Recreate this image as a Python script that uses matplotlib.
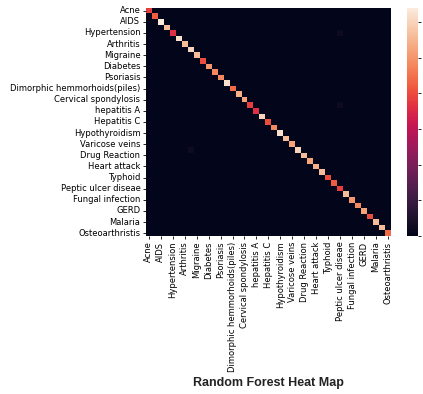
import numpy as np
import matplotlib
matplotlib.use("Agg")
import matplotlib.pyplot as plt
import seaborn as sns

diseases = ['Acne', 'Allergy', 'AIDS', 'Chronic cholestasis', 'Hypertension',
            'Gastroenteritis', 'Arthritis', 'Bronchial Asthma', 'Migraine',
            'Paralysis (brain hemorrhage)', 'Diabetes', 'Jaundice', 'Psoriasis',
            'Chicken pox', 'Dimorphic hemmorhoids(piles)', 'Dengue',
            'Cervical spondylosis', 'Hepatitis B', 'hepatitis A', 'Hepatitis D',
            'Hepatitis C', 'Hepatitis E', 'Hypothyroidism', 'Alcoholic hepatitis',
            'Varicose veins', 'Tuberculosis', 'Drug Reaction', 'Common Cold',
            'Heart attack', 'Pneumonia', 'Typhoid', 'Hyperthyroidism',
            'Peptic ulcer diseae', 'Hypoglycemia', 'Fungal infection',
            '(vertigo) Paroymsal  Positional Vertigo', 'GERD',
            'Urinary tract infection', 'Malaria', 'Impetigo', 'Osteoarthristis']

# correct predictions per class (diagonal of the confusion matrix)
correct = [19, 21, 32, 28, 18, 31, 28, 30, 28, 20, 25, 24, 24, 31, 22, 27, 26,
           19, 18, 30, 20, 24, 31, 28, 26, 30, 28, 26, 27, 28, 20, 21, 19, 28,
           25, 24, 26, 20, 28, 28, 22]

# misclassifications: (true row, predicted col, count)
wrong = [(4, 32, 1), (17, 32, 1), (25, 7, 1)]

cm = np.diag(correct).astype(float)
for r, c, n in wrong:
    cm[r, c] = n

fig = plt.figure(figsize=(4.23, 3.94), dpi=100)
ax = fig.add_axes([0.345, 0.401, 0.579, 0.579])
cax = fig.add_axes([0.962, 0.401, 0.026, 0.579])

sns.heatmap(cm, ax=ax, cbar_ax=cax, cmap='rocket', vmin=0, vmax=32,
            xticklabels=diseases, yticklabels=diseases)
ax.set_xticks(np.arange(0, 41, 2) + 0.5)
ax.set_xticklabels(diseases[::2], rotation=90, fontsize=6)
ax.set_yticks(np.arange(0, 41, 2) + 0.5)
ax.set_yticklabels(diseases[::2], rotation=0, fontsize=6)
ax.tick_params(length=2.5, width=0.6, pad=1.5)

cax.set_yticks([0, 5, 10, 15, 20, 25, 30])
cax.set_yticklabels([])
cax.tick_params(length=2.5, width=0.6)

fig.text(0.634, 0.027, 'Random Forest Heat Map', ha='center', va='center',
         fontsize=9, fontweight='bold', family='Liberation Sans', color='#222222')

plt.savefig('out.png', dpi=100)
